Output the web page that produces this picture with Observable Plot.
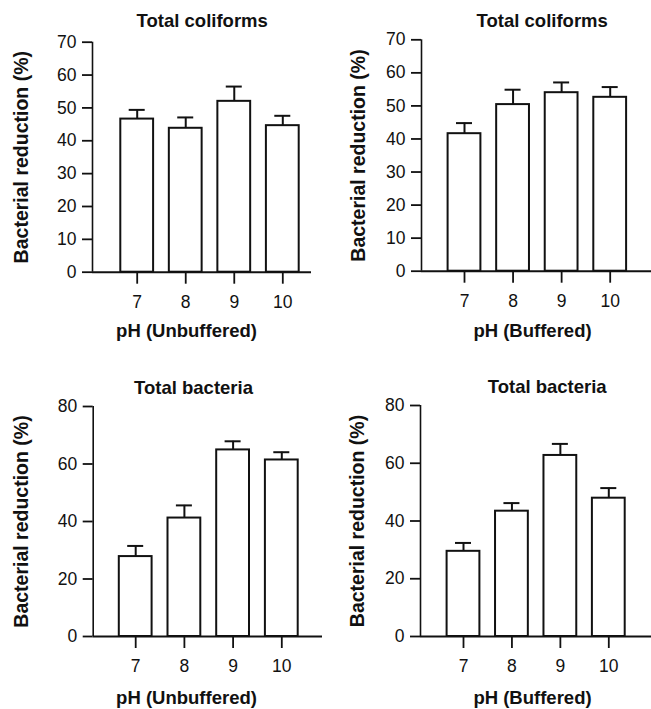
<!DOCTYPE html>
<html><head><meta charset="utf-8">
<script src="https://cdn.jsdelivr.net/npm/d3@7"></script>
<script src="https://cdn.jsdelivr.net/npm/@observablehq/plot@0.6"></script>
<style>
body{margin:0;background:#fff;}
#wrap{position:relative;width:651px;height:709px;overflow:hidden;background:#fff;}
#wrap svg{position:absolute;}
</style></head><body><div id="wrap"></div>
<script>
// ---- data ----
const pH = [7, 8, 9, 10];
const titles = ["Total coliforms", "Total coliforms", "Total bacteria", "Total bacteria"];
const xLabels = ["pH (Unbuffered)", "pH (Buffered)", "pH (Unbuffered)", "pH (Buffered)"];
const yLabel = "Bacterial reduction (%)";

const coliUnbuffered   = [46.6, 43.8, 52.0, 44.6];
const coliUnbufferedSE = [2.8, 3.3, 4.5, 3.0];
const coliBuffered     = [41.6, 50.4, 54.0, 52.6];
const coliBufferedSE   = [3.2, 4.5, 3.1, 3.1];
const bactUnbuffered   = [27.8, 41.2, 64.9, 61.4];
const bactUnbufferedSE = [3.7, 4.4, 3.0, 2.7];
const bactBuffered     = [29.5, 43.4, 62.7, 47.9];
const bactBufferedSE   = [2.9, 2.8, 4.0, 3.5];

const yTicksColi = [0, 10, 20, 30, 40, 50, 60, 70];
const yTicksBact = [0, 20, 40, 60, 80];

const series = [
  {values: coliUnbuffered, se: coliUnbufferedSE, ticks: yTicksColi},
  {values: coliBuffered,   se: coliBufferedSE,   ticks: yTicksColi},
  {values: bactUnbuffered, se: bactUnbufferedSE, ticks: yTicksBact},
  {values: bactBuffered,   se: bactBufferedSE,   ticks: yTicksBact}
];

// ---- layout (pixels) ----
const layout = [
  {left: 0,   top: 0,   w: 325, h: 345, axisX: 92,   x7: 136.7, x10: 282.3, axisEnd: 311, yTop: 41.7, yZero: 271.7, yLabelX: 21,   titleX: 201.7, titleY: 21,  xLabelX: 186, xLabelY: 331},
  {left: 325, top: 0,   w: 326, h: 345, axisX: 96,   x7: 139,   x10: 284.7, axisEnd: 326, yTop: 39.3, yZero: 270.7, yLabelX: 33,   titleX: 216.7, titleY: 21,  xLabelX: 207, xLabelY: 331},
  {left: 0,   top: 345, w: 325, h: 364, axisX: 92.7, x7: 135.2, x10: 281.3, axisEnd: 322, yTop: 61,   yZero: 291,   yLabelX: 21,   titleX: 193,   titleY: 43,  xLabelX: 186, xLabelY: 353},
  {left: 325, top: 345, w: 326, h: 364, axisX: 95,   x7: 138,   x10: 283.3, axisEnd: 326, yTop: 60,   yZero: 291,   yLabelX: 32.5, titleX: 221.7, titleY: 42,  xLabelX: 207, xLabelY: 353}
];

const FONT = "'Liberation Sans', Arial, Helvetica, sans-serif";
const wrap = document.getElementById("wrap");

series.forEach((s, i) => {
  const L = layout[i];
  const ppu = (L.x10 - L.x7) / 3;
  const xmin = 7 - (L.x7 - L.axisX) / ppu;
  const xmax = 10 + (L.axisEnd - L.x10) / ppu;
  const ymax = s.ticks[s.ticks.length - 1];
  const hw = 16.4 / ppu;   // bar half width
  const cap = 8 / ppu;     // error cap half width
  const data = pH.map((p, k) => ({pH: p, value: s.values[k], top: s.values[k] + s.se[k]}));
  const frameCx = (L.axisX + L.axisEnd) / 2;

  const svg = Plot.plot({
    width: L.w,
    height: L.h,
    marginLeft: L.axisX,
    marginRight: L.w - L.axisEnd,
    marginTop: L.yTop,
    marginBottom: L.h - L.yZero,
    style: {fontFamily: FONT, fontSize: "17px", color: "#111", background: "transparent"},
    x: {type: "linear", domain: [xmin, xmax]},
    y: {domain: [0, ymax]},
    marks: [
      Plot.rect(data, {x1: d => d.pH - hw, x2: d => d.pH + hw, y1: 0, y2: "value", fill: "white", stroke: "#111", strokeWidth: 2}),
      Plot.ruleX(data, {x: "pH", y1: "value", y2: "top", stroke: "#111", strokeWidth: 2}),
      Plot.ruleY(data, {y: "top", x1: d => d.pH - cap, x2: d => d.pH + cap, stroke: "#111", strokeWidth: 2}),
      Plot.ruleX([xmin], {y1: 0, y2: ymax, stroke: "#111", strokeWidth: 1.6}),
      Plot.ruleY([0], {stroke: "#111", strokeWidth: 2}),
      Plot.axisY({ticks: s.ticks, tickFormat: d => String(d), tickSize: 10, tickPadding: 6, fontSize: 17.5, label: null, stroke: "#111", strokeWidth: 1.8, fill: "#111"}),
      Plot.axisX({ticks: pH, tickFormat: d => String(d), tickSize: 12, tickPadding: 11, fontSize: 17.5, label: null, stroke: "#111", strokeWidth: 1.8, fill: "#111"}),
      Plot.text([titles[i]], {frameAnchor: "top", textAnchor: "middle", lineAnchor: "middle", dx: L.titleX - frameCx, dy: L.titleY - L.yTop, fontWeight: "bold", fontSize: 18.5, fill: "#111"}),
      Plot.text([xLabels[i]], {frameAnchor: "bottom", textAnchor: "middle", lineAnchor: "middle", dx: L.xLabelX - frameCx, dy: L.xLabelY - L.yZero, fontWeight: "bold", fontSize: 18.5, fill: "#111"}),
      Plot.text([yLabel], {frameAnchor: "left", textAnchor: "middle", lineAnchor: "middle", rotate: -90, dx: L.yLabelX - L.axisX, fontWeight: "bold", fontSize: 19.5, fill: "#111"})
    ]
  });
  svg.style.left = L.left + "px";
  svg.style.top = L.top + "px";
  wrap.appendChild(svg);
});
</script>
</body></html>
